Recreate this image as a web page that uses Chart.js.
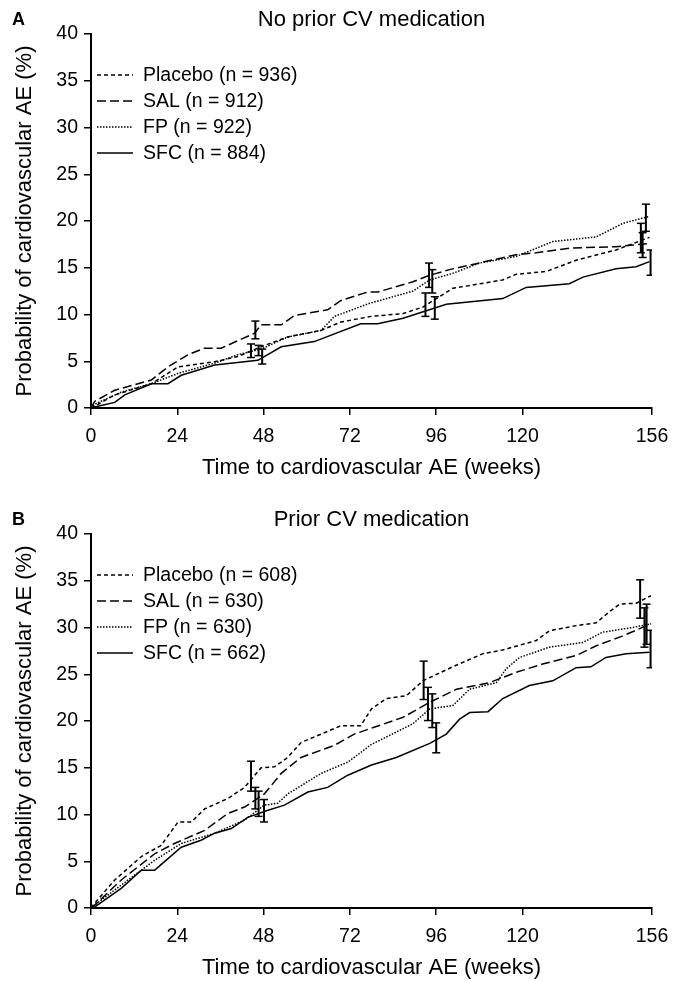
<!DOCTYPE html>
<html>
<head>
<meta charset="utf-8">
<script src="https://cdn.jsdelivr.net/npm/chart.js@4.4.1/dist/chart.umd.min.js"></script>
<style>
html, body { margin: 0; padding: 0; background: #fff; }
#wrap { width: 683px; height: 981px; position: relative; }
canvas { position: absolute; left: 0; }
#chartA { top: 0; }
#chartB { top: 500px; }
</style>
</head>
<body>
<div id="wrap">
  <canvas id="chartA" width="683" height="481"></canvas>
  <canvas id="chartB" width="683" height="481"></canvas>
</div>
<script>
// tick labels
var X_TICKS = [0, 24, 48, 72, 96, 120, 156];
var SERIES_NAMES = ['Placebo', 'SAL', 'FP', 'SFC'];
var N_A = [936, 912, 922, 884];
var N_B = [608, 630, 630, 662];

// panel A: no prior CV medication, [week, %]
var A_PLACEBO = [[0,0],[2,0.4],[6.6,1.4],[16.8,2.6],[24.2,4.4],[34.4,4.95],[40.8,5.5],[47.3,6.55],[54.7,7.6],[64,8.3],[69.5,9.2],[78,9.8],[86.8,10.1],[92.3,10.8],[100.6,12.8],[114.5,13.7],[118.2,14.3],[126.6,14.6],[134.9,15.8],[146,16.9],[155.3,18.25]];
var A_SAL = [[0,0],[1,0.7],[6.6,1.9],[16.8,3.0],[21.4,4.4],[27,5.7],[31.6,6.4],[36.2,6.4],[45.5,8.0],[47.3,8.9],[52.9,8.9],[56.6,9.9],[65.8,10.5],[69.5,11.5],[76.9,12.4],[79.7,12.4],[89.5,13.5],[94.2,14.2],[99.7,14.8],[109,15.6],[118.2,16.4],[123.8,16.6],[133,17.1],[146,17.25],[155.3,17.6]];
var A_FP = [[0,0],[1,0.4],[8.4,1.7],[16.8,2.6],[24.2,3.7],[34.4,4.8],[40.8,5.7],[47.3,6.3],[54.7,7.6],[64,8.3],[67.7,9.8],[77.5,11.2],[89.5,12.5],[94.2,13.7],[100.6,14.4],[108,15.5],[118.2,16.2],[128.4,17.8],[140.5,18.3],[147.9,19.75],[155.3,20.5]];
var A_SFC = [[0,0],[1,0.1],[6.6,0.6],[9.4,1.4],[16.8,2.6],[21.4,2.6],[25.1,3.5],[34.4,4.6],[46.4,5.1],[52.9,6.55],[62.1,7.1],[75,9.0],[79.7,9.0],[86.8,9.6],[98.8,11.1],[114.5,11.7],[121,12.9],[133,13.3],[136.8,14.0],[146,14.9],[151.6,15.1],[155.3,15.65]];
// error bars [week, low, high]
var A_ERR = [
  [44.5,5.4,6.85],[93,9.8,12.3],[152.9,16.6,19.75],
  [45.7,7.4,9.3],[94,12.9,15.5],[153.4,16.1,18.75],
  [46.6,5.6,6.7],[94.9,12.3,14.8],[154.3,18.9,21.8],
  [47.6,4.7,6.3],[95.6,9.5,11.9],[155.6,14.2,16.9]
];

// panel B: prior CV medication
var B_PLACEBO = [[0,0],[1,0.5],[6.6,3.0],[14,5.5],[19.5,6.7],[24.2,9.2],[27.9,9.2],[31.6,10.6],[38,11.7],[42.7,12.9],[47.3,15.0],[51,15.1],[54.7,16.1],[58.4,17.7],[64,18.6],[69.5,19.5],[75,19.5],[78,21.3],[82.1,22.4],[87.7,22.7],[92.3,24.3],[100.6,25.8],[109,27.2],[114.5,27.6],[123.8,28.6],[127.5,29.65],[134.9,30.2],[140.5,30.5],[144.2,31.7],[147,32.5],[151.6,32.6],[155.7,33.4]];
var B_SAL = [[0,0],[1,0.3],[8.4,3.0],[17.7,5.8],[23.2,6.9],[31.6,8.3],[38,10.1],[42.7,10.8],[48.2,12.2],[52.9,14.4],[58.4,16.1],[67.7,17.4],[73.2,18.6],[78.5,19.3],[86.8,20.4],[94.2,22.0],[101.6,23.4],[110.8,24.1],[118.2,25.2],[125.6,26.1],[134.9,27.0],[140.5,28.05],[147.9,29.1],[155.7,30.4]];
var B_FP = [[0,0],[1,0.3],[10.3,3.0],[17.7,5.1],[25.1,6.9],[34.4,8.0],[42.7,9.4],[48.2,11.0],[51.9,11.2],[54.7,12.2],[64,14.4],[71.4,15.6],[78,17.5],[89.5,19.7],[94.2,21.3],[100.6,21.65],[105.3,23.4],[112.7,24.1],[115.5,25.6],[119.2,26.8],[127.5,27.9],[136.8,28.4],[142.3,29.5],[150.6,30.0],[155.7,30.4]];
var B_SFC = [[0,0],[1,0.1],[8.4,2.1],[14,4.05],[17.7,4.05],[25.1,6.5],[30.6,7.25],[34.4,8.0],[39,8.5],[43.6,9.7],[49.2,10.45],[53.8,11.0],[60.3,12.4],[65.8,12.9],[71.4,14.2],[78,15.3],[84.9,16.1],[94.2,17.6],[98.8,18.6],[102.5,20.2],[105.3,20.9],[110.4,21.0],[114.5,22.4],[121.9,23.8],[128.4,24.3],[134.9,25.7],[139,25.8],[143.2,26.8],[148.8,27.2],[155.3,27.35]];
var B_ERR = [
  [44.5,12.5,15.7],[92.5,22.3,26.4],[152.7,31.0,35.1],
  [45.7,10.6,12.9],[93.7,20.05,23.6],[153.9,27.9,32.1],
  [46.6,9.8,12.5],[94.9,19.3,22.9],[154.5,28.2,32.5],
  [48.1,9.2,11.6],[96,16.6,19.8],[155.6,25.7,29.7]
];

var FONT = '"Liberation Sans", Arial, Helvetica, sans-serif';
var DASHES = [[4,3],[9,4],[1.5,1.5],[]];

function toPoints(arr) {
  return arr.map(function(p){ return {x: p[0], y: p[1]}; });
}

function errPoints(arr) {
  var pts = [];
  for (var i = 0; i < arr.length; i++) {
    pts.push({x: arr[i][0], y: arr[i][1]});
    pts.push({x: arr[i][0], y: arr[i][2]});
    pts.push({x: arr[i][0], y: null});
  }
  return pts;
}

// legend inside the plot + panel letter
var panelDecor = {
  id: 'panelDecor',
  afterDraw: function(chart, args, opts) {
    var ctx = chart.ctx, area = chart.chartArea;
    ctx.save();
    ctx.fillStyle = '#000';
    ctx.strokeStyle = '#000';
    ctx.textBaseline = 'middle';
    ctx.textAlign = 'left';
    ctx.font = 'bold 18px ' + FONT;
    ctx.fillText(opts.letter, 12, 20);
    ctx.font = '19.5px ' + FONT;
    for (var i = 0; i < 4; i++) {
      var ds = chart.data.datasets[i];
      var y = area.top + 42 + i * 26;
      ctx.beginPath();
      ctx.lineWidth = 1.5;
      ctx.setLineDash(ds.borderDash);
      ctx.moveTo(area.left + 6, y - 1);
      ctx.lineTo(area.left + 42, y - 1);
      ctx.stroke();
      ctx.setLineDash([]);
      ctx.fillText(ds.label, area.left + 52, y);
    }
    ctx.restore();
  }
};

function makeChart(id, letter, title, curves, ns, errs) {
  var datasets = [];
  for (var i = 0; i < curves.length; i++) {
    datasets.push({
      label: SERIES_NAMES[i] + ' (n = ' + ns[i] + ')',
      data: toPoints(curves[i]),
      borderColor: '#000',
      borderWidth: 1.5,
      borderDash: DASHES[i],
      pointRadius: 0,
      tension: 0,
      fill: false
    });
  }
  datasets.push({
    label: 'CI',
    data: errPoints(errs),
    borderColor: '#000',
    borderWidth: 2,
    pointStyle: 'line',
    pointRadius: 4,
    pointBorderWidth: 1.5,
    pointBorderColor: '#000',
    spanGaps: false,
    fill: false
  });

  return new Chart(document.getElementById(id), {
    type: 'line',
    data: { datasets: datasets },
    options: {
      responsive: false,
      devicePixelRatio: 1,
      animation: false,
      layout: { padding: { left: 8, right: 31, top: 0, bottom: 0 } },
      plugins: {
        legend: { display: false },
        tooltip: { enabled: false },
        title: {
          display: true,
          text: title,
          fullSize: false,
          color: '#000',
          font: { family: FONT, size: 22, weight: 'normal' },
          padding: { top: 7, bottom: 0.6 }
        },
        panelDecor: { letter: letter }
      },
      scales: {
        x: {
          type: 'linear',
          min: 0,
          max: 156,
          afterBuildTicks: function(scale) {
            scale.ticks = X_TICKS.map(function(v){ return {value: v}; });
          },
          afterFit: function(scale) { scale.height = 73; },
          border: { display: true, color: '#000', width: 2 },
          grid: { display: true, drawOnChartArea: false, drawTicks: true, tickLength: 7, color: '#000', lineWidth: 1.5 },
          ticks: { color: '#000', font: { family: FONT, size: 19.5 }, padding: 10, maxRotation: 0, autoSkip: false },
          title: {
            display: true,
            text: 'Time to cardiovascular AE (weeks)',
            color: '#000',
            font: { family: FONT, size: 22 },
            padding: { top: 0, bottom: 0 }
          }
        },
        y: {
          type: 'linear',
          min: 0,
          max: 40,
          afterFit: function(scale) { scale.width = 83; },
          border: { display: true, color: '#000', width: 2 },
          grid: { display: true, drawOnChartArea: false, drawTicks: true, tickLength: 7, color: '#000', lineWidth: 1.5 },
          ticks: { color: '#000', font: { family: FONT, size: 19.5 }, padding: 6, stepSize: 5 },
          title: {
            display: true,
            text: 'Probability of cardiovascular AE (%)',
            color: '#000',
            font: { family: FONT, size: 22 },
            padding: { top: 4, bottom: 19 }
          }
        }
      }
    },
    plugins: [panelDecor]
  });
}

makeChart('chartA', 'A', 'No prior CV medication', [A_PLACEBO, A_SAL, A_FP, A_SFC], N_A, A_ERR);
makeChart('chartB', 'B', 'Prior CV medication', [B_PLACEBO, B_SAL, B_FP, B_SFC], N_B, B_ERR);
</script>
</body>
</html>
